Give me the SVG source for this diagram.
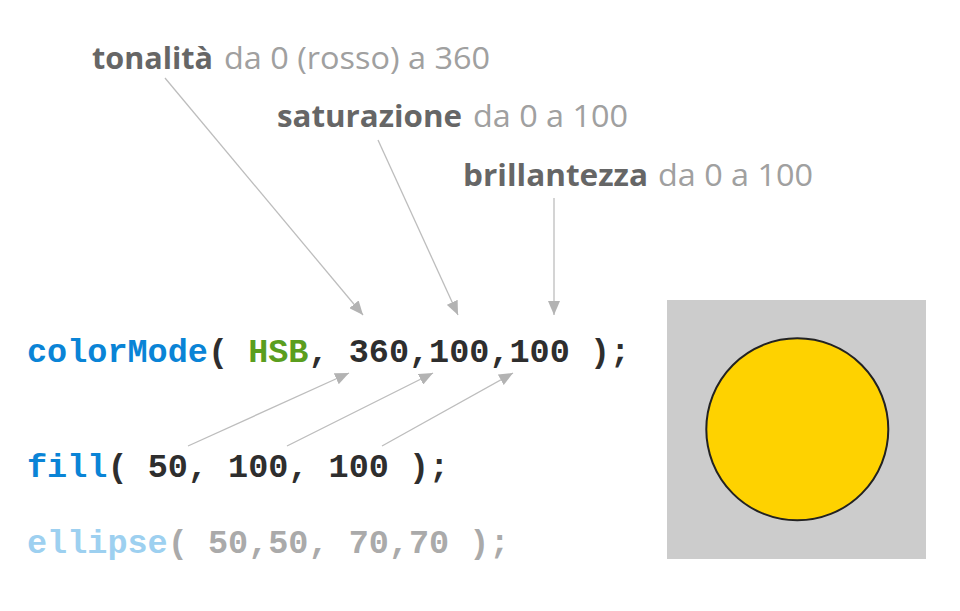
<svg xmlns="http://www.w3.org/2000/svg" width="960" height="611" viewBox="0 0 960 611">
<defs>
<style>
.lb{font-family:"Open Sans","DejaVu Sans",sans-serif;font-size:31px;font-weight:700;fill:#666}
.ll{font-family:"Open Sans","DejaVu Sans",sans-serif;font-size:31px;font-weight:400;fill:#a0a0a0}
.code{font-family:"Liberation Mono","DejaVu Sans Mono",monospace;font-size:33.5px;font-weight:700;white-space:pre}
.fn{fill:#0a84d6}
.kw{fill:#5a9e1e}
.num{fill:#2e2e2e}
.fnl{fill:#9dd0f0}
.numl{fill:#aaaaaa}
.conn line{stroke:#bdbdbd;stroke-width:1.3}
</style>
<marker id="ah" viewBox="0 0 14 12" refX="14" refY="6" markerWidth="14" markerHeight="12" markerUnits="userSpaceOnUse" orient="auto">
<path d="M0,0 L14,6 L0,12 Z" fill="#b3b3b3"/>
</marker>
</defs>
<rect width="960" height="611" fill="#ffffff"/>

<g id="label-tonalita">
<text class="lb" x="92" y="69" textLength="121" lengthAdjust="spacingAndGlyphs">tonalità</text>
<text class="ll" x="224" y="69" textLength="266" lengthAdjust="spacingAndGlyphs">da 0 (rosso) a 360</text>
</g>
<g id="label-saturazione">
<text class="lb" x="277" y="127" textLength="185" lengthAdjust="spacingAndGlyphs">saturazione</text>
<text class="ll" x="473" y="127" textLength="155" lengthAdjust="spacingAndGlyphs">da 0 a 100</text>
</g>
<g id="label-brillantezza">
<text class="lb" x="463" y="186" textLength="185" lengthAdjust="spacingAndGlyphs">brillantezza</text>
<text class="ll" x="658" y="186" textLength="155" lengthAdjust="spacingAndGlyphs">da 0 a 100</text>
</g>

<g id="code-colorMode">
<text class="code" x="27" y="362"><tspan class="fn">colorMode</tspan><tspan class="num">( </tspan><tspan class="kw">HSB</tspan><tspan class="num">, 360,100,100 );</tspan></text>
</g>
<g id="code-fill">
<text class="code" x="27" y="477"><tspan class="fn">fill</tspan><tspan class="num">( 50, 100, 100 );</tspan></text>
</g>
<g id="code-ellipse">
<text class="code" x="27" y="553"><tspan class="fnl">ellipse</tspan><tspan class="numl">( 50,50, 70,70 );</tspan></text>
</g>

<g id="preview">
<rect x="667" y="300" width="259" height="259" fill="#cccccc"/>
<circle cx="797.3" cy="429.3" r="91" fill="#fed200" stroke="#222" stroke-width="2"/>
</g>

<g id="connectors" class="conn">
<line x1="165" y1="78" x2="363" y2="315" marker-end="url(#ah)"/>
<line x1="378" y1="140" x2="458" y2="315" marker-end="url(#ah)"/>
<line x1="554" y1="198" x2="554" y2="315" marker-end="url(#ah)"/>
<line x1="188" y1="446" x2="349" y2="373" marker-end="url(#ah)"/>
<line x1="287" y1="446" x2="433" y2="373" marker-end="url(#ah)"/>
<line x1="382" y1="446" x2="513" y2="373" marker-end="url(#ah)"/>
</g>
</svg>
